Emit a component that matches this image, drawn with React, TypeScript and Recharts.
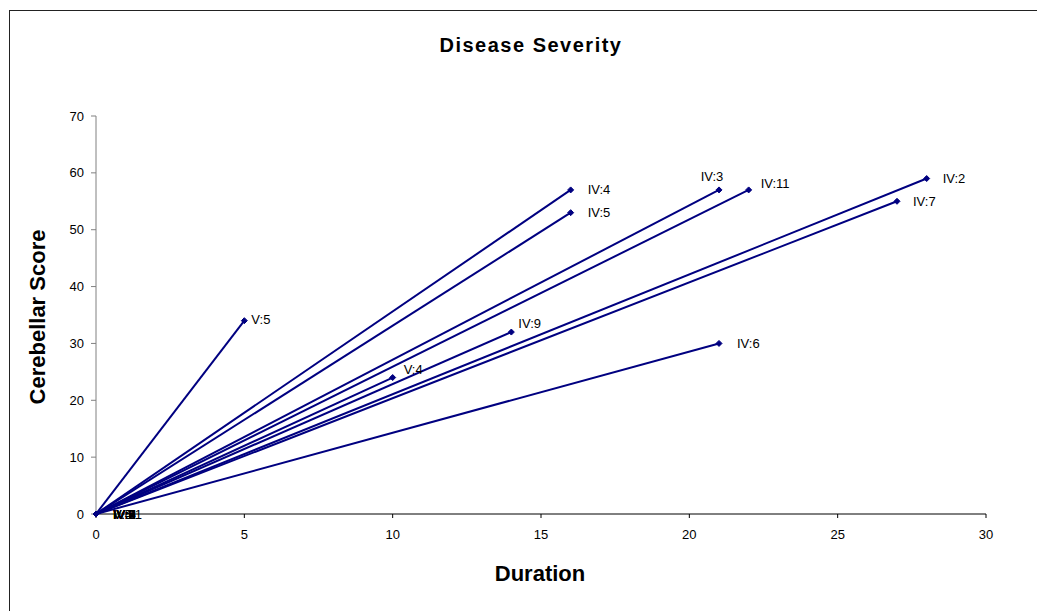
import { ScatterChart, Scatter, XAxis, YAxis } from 'recharts';

// Each patient is drawn as a line from the origin to (duration, score).
const PATIENTS = ['V:5', 'IV:4', 'IV:5', 'IV:3', 'IV:11', 'IV:2', 'IV:7', 'IV:9', 'V:4', 'IV:6'];
const DURATIONS = [5, 16, 16, 21, 22, 28, 27, 14, 10, 21];
const SCORES = [34, 57, 53, 57, 57, 59, 55, 32, 24, 30];

const X_TICKS = [0, 5, 10, 15, 20, 25, 30];
const Y_TICKS = [0, 10, 20, 30, 40, 50, 60, 70];

const NAVY = '#000080';
const FONT = 'Arial, "Liberation Sans", sans-serif';

// where the end-point label sits relative to its marker
const LABEL_PLACEMENT: Record<string, { dx: number; dy: number; anchor?: string }> = {
  'V:5': { dx: 7, dy: -1 },
  'IV:4': { dx: 17, dy: 0 },
  'IV:5': { dx: 17, dy: 0 },
  'IV:3': { dx: -7, dy: -13, anchor: 'middle' },
  'IV:11': { dx: 12, dy: -6 },
  'IV:2': { dx: 16, dy: 0 },
  'IV:7': { dx: 16, dy: 0 },
  'IV:9': { dx: 7, dy: -9 },
  'V:4': { dx: 11, dy: -8 },
  'IV:6': { dx: 18, dy: 0 },
};

const series = PATIENTS.map((name, i) => ({
  name,
  data: [
    { x: 0, y: 0, name, end: false },
    { x: DURATIONS[i], y: SCORES[i], name, end: true },
  ],
}));

function Marker(props: any) {
  const { cx, cy, payload } = props;
  if (cx == null || cy == null) return null;
  const p = payload.end ? LABEL_PLACEMENT[payload.name] : { dx: 17, dy: 0 };
  const s = 3;
  return (
    <g>
      <polygon
        points={`${cx},${cy - s} ${cx + s},${cy} ${cx},${cy + s} ${cx - s},${cy}`}
        fill={NAVY}
        stroke={NAVY}
      />
      <text
        x={cx + p.dx}
        y={cy + p.dy}
        dy="0.35em"
        textAnchor={p.anchor || 'start'}
        fontSize={13}
        fontFamily={FONT}
        fill="#000"
      >
        {payload.name}
      </text>
    </g>
  );
}

export default function App() {
  return (
    <div style={{ position: 'absolute', left: 0, top: 0, width: 1037, height: 611, fontFamily: FONT, background: '#fff' }}>
      <div
        style={{
          position: 'absolute',
          left: 9,
          top: 10,
          width: 1028,
          height: 601,
          borderTop: '1px solid #222',
          borderLeft: '1px solid #222',
        }}
      />
      <div
        style={{
          position: 'absolute',
          left: 331,
          width: 400,
          top: 32,
          textAlign: 'center',
          fontSize: 20,
          fontWeight: 'bold',
          letterSpacing: 1.5,
          lineHeight: '26px',
        }}
      >
        Disease Severity
      </div>
      <div
        style={{
          position: 'absolute',
          left: 340,
          width: 400,
          top: 560,
          textAlign: 'center',
          fontSize: 22,
          fontWeight: 'bold',
          lineHeight: '28px',
        }}
      >
        Duration
      </div>
      <div
        style={{
          position: 'absolute',
          left: 38 - 150,
          top: 317 - 14,
          width: 300,
          height: 28,
          textAlign: 'center',
          fontSize: 22,
          fontWeight: 'bold',
          lineHeight: '28px',
          transform: 'rotate(-90deg)',
        }}
      >
        Cerebellar Score
      </div>
      <ScatterChart
        width={1037}
        height={611}
        margin={{ top: 116, right: 51, bottom: 57, left: 36 }}
        style={{ position: 'absolute', left: 0, top: 0 }}
      >
        <XAxis
          type="number"
          dataKey="x"
          domain={[0, 30]}
          ticks={X_TICKS}
          height={40}
          stroke="#000"
          tickSize={4}
          tickMargin={12}
          tick={{ fontSize: 13, fill: '#000', fontFamily: FONT }}
        />
        <YAxis
          type="number"
          dataKey="y"
          domain={[0, 70]}
          ticks={Y_TICKS}
          width={60}
          stroke="#808080"
          tickSize={5}
          tickMargin={7}
          tick={{ fontSize: 13, fill: '#000', fontFamily: FONT }}
        />
        {series.map((s) => (
          <Scatter
            key={s.name}
            name={s.name}
            data={s.data}
            line={{ stroke: NAVY, strokeWidth: 2 }}
            lineType="joint"
            shape={<Marker />}
            isAnimationActive={false}
          />
        ))}
      </ScatterChart>
    </div>
  );
}
